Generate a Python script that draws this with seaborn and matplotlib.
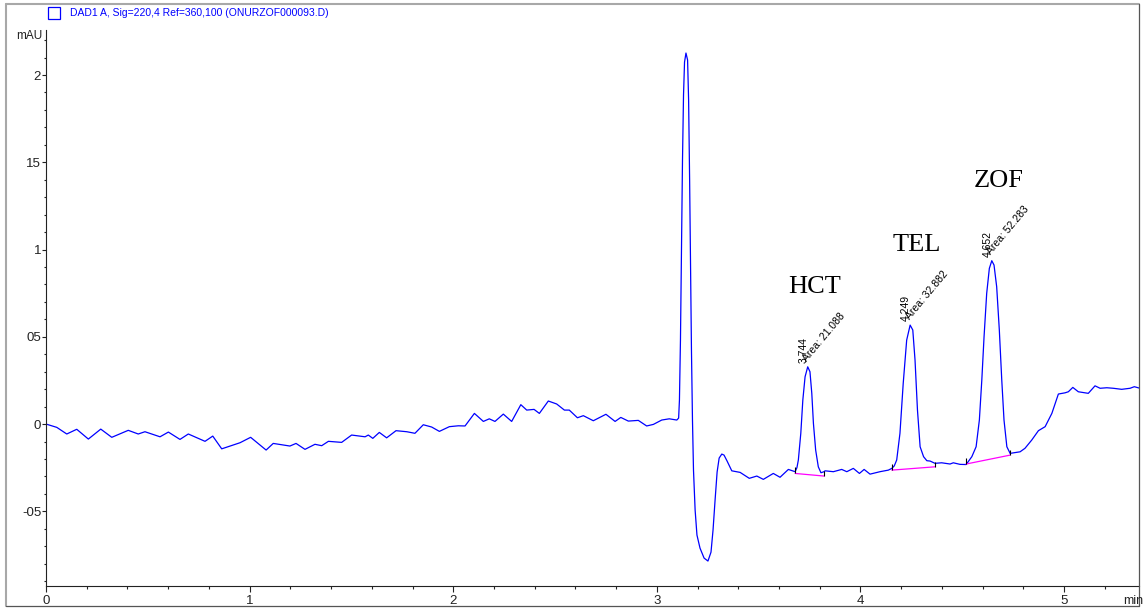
import matplotlib
matplotlib.use('Agg')
import matplotlib.pyplot as plt
import seaborn as sns
import numpy as np
from matplotlib.ticker import MultipleLocator
from matplotlib.lines import Line2D
from matplotlib.patches import Rectangle
from matplotlib.transforms import IdentityTransform

# trace (time in min, signal in mAU)
time_min = [
    0.000, 0.053, 0.102, 0.151, 0.208, 0.269, 0.323, 0.404, 0.453, 0.486,
    0.560, 0.601, 0.658, 0.699, 0.781, 0.819, 0.863, 0.953, 1.005, 1.081,
    1.116, 1.198, 1.228, 1.272, 1.321, 1.354, 1.387, 1.452, 1.501, 1.567,
    1.583, 1.605, 1.637, 1.673, 1.719, 1.772, 1.812, 1.853, 1.894, 1.932,
    1.981, 2.025, 2.058, 2.104, 2.148, 2.177, 2.205, 2.246, 2.287, 2.332,
    2.361, 2.397, 2.423, 2.467, 2.508, 2.546, 2.570, 2.610, 2.639, 2.688,
    2.750, 2.795, 2.823, 2.860, 2.909, 2.950, 2.983, 3.024, 3.061, 3.098,
    # solvent front spike
    3.107, 3.111, 3.116, 3.121, 3.126, 3.131, 3.136, 3.143, 3.151, 3.156,
    3.161, 3.166, 3.170, 3.175, 3.180, 3.188, 3.197, 3.212, 3.232, 3.251,
    3.266, 3.276, 3.286, 3.296, 3.306, 3.319, 3.330, 3.345, 3.368, 3.409,
    3.454, 3.491, 3.523, 3.572, 3.605, 3.646, 3.679,
    # HCT
    3.688, 3.695, 3.707, 3.717, 3.728, 3.741, 3.752, 3.761, 3.769, 3.780,
    3.793, 3.806, 3.821,
    3.826, 3.867, 3.908, 3.933, 3.965, 3.995, 4.018, 4.047, 4.096, 4.137,
    4.154,
    # TEL
    4.166, 4.178, 4.194, 4.210, 4.227, 4.244, 4.257, 4.268, 4.280, 4.293,
    4.310, 4.326, 4.342, 4.366, 4.399, 4.440, 4.456, 4.489, 4.519,
    # ZOF
    4.547, 4.568, 4.584, 4.596, 4.607, 4.620, 4.633, 4.645, 4.656, 4.669,
    4.682, 4.694, 4.705, 4.719, 4.735, 4.784, 4.808, 4.841, 4.874, 4.907,
    4.940, 4.972, 5.005, 5.021, 5.043, 5.070, 5.119, 5.152, 5.177, 5.210,
    5.242, 5.283, 5.324, 5.345, 5.373,
]
signal_mau = [
    0.000, -0.019, -0.057, -0.030, -0.086, -0.029, -0.076, -0.036, -0.057, -0.044,
    -0.073, -0.046, -0.088, -0.057, -0.099, -0.069, -0.142, -0.107, -0.076, -0.149,
    -0.111, -0.126, -0.111, -0.145, -0.116, -0.124, -0.099, -0.105, -0.063, -0.073,
    -0.063, -0.082, -0.048, -0.079, -0.038, -0.044, -0.053, -0.004, -0.017, -0.042,
    -0.015, -0.010, -0.011, 0.061, 0.015, 0.030, 0.015, 0.057, 0.015, 0.111,
    0.080, 0.084, 0.061, 0.132, 0.115, 0.080, 0.080, 0.036, 0.048, 0.019,
    0.056, 0.015, 0.038, 0.017, 0.021, -0.011, -0.002, 0.023, 0.030, 0.023,
    0.034, 0.138, 0.481, 0.997, 1.513, 1.885, 2.074, 2.126, 2.086, 1.857,
    1.398, 0.883, 0.424, 0.023, -0.264, -0.493, -0.636, -0.711, -0.768, -0.785,
    -0.734, -0.607, -0.436, -0.275, -0.195, -0.172, -0.178, -0.212, -0.268, -0.277,
    -0.311, -0.298, -0.317, -0.283, -0.305, -0.260, -0.273,
    -0.250, -0.206, -0.053, 0.138, 0.271, 0.328, 0.300, 0.176, 0.004, -0.149,
    -0.245, -0.279, -0.273,
    -0.268, -0.273, -0.260, -0.273, -0.254, -0.283, -0.260, -0.287, -0.273, -0.264,
    -0.254,
    -0.240, -0.206, -0.053, 0.233, 0.481, 0.567, 0.539, 0.367, 0.080, -0.130,
    -0.187, -0.210, -0.212, -0.225, -0.222, -0.229, -0.222, -0.231, -0.232,
    -0.187, -0.130, 0.023, 0.252, 0.500, 0.749, 0.892, 0.936, 0.911, 0.787,
    0.539, 0.252, 0.023, -0.130, -0.168, -0.159, -0.139, -0.092, -0.038, -0.015,
    0.061, 0.172, 0.179, 0.185, 0.210, 0.185, 0.176, 0.219, 0.205, 0.208,
    0.205, 0.199, 0.205, 0.214, 0.205,
]

# integrated peaks
peak_names = ['HCT', 'TEL', 'ZOF']
peak_rt = [3.744, 4.249, 4.652]
peak_apex_t = [3.741, 4.244, 4.645]
peak_apex_y = [0.328, 0.567, 0.936]
peak_area = ['21.088', '32.882', '52.283']
base_start_t = [3.679, 4.154, 4.519]
base_start_y = [-0.283, -0.264, -0.229]
base_end_t = [3.821, 4.366, 4.735]
base_end_y = [-0.298, -0.245, -0.178]

y_ticks = [-0.5, 0, 0.5, 1, 1.5, 2]
y_tick_labels = ['-05', '0', '05', '1', '15', '2']
x_ticks = [0, 1, 2, 3, 4, 5]

sns.set_style('ticks')
plt.rcParams['font.family'] = ['Liberation Sans', 'DejaVu Sans']

W, H = 1144, 609
fig = plt.figure(figsize=(W / 100, H / 100), dpi=100)
ax = fig.add_axes([46 / W, (H - 586) / H, (1139 - 46) / W, (586 - 30) / H])

sns.lineplot(x=time_min, y=signal_mau, color='#0000ff', linewidth=0.9,
             sort=False, ax=ax, solid_joinstyle='round')

for i in range(len(peak_names)):
    ax.plot([base_start_t[i], base_end_t[i]], [base_start_y[i], base_end_y[i]],
            color='#ff00ff', linewidth=0.9)
    ax.vlines([base_start_t[i], base_end_t[i]],
              [base_start_y[i], base_end_y[i]],
              [base_start_y[i] + 0.035, base_end_y[i] + 0.03],
              color='black', linewidth=0.8)
    ax.annotate(f'{peak_rt[i]:.3f}', xy=(peak_apex_t[i], peak_apex_y[i]),
                xytext=(0.5, 4), textcoords='offset pixels', rotation=90,
                rotation_mode='anchor', ha='left', va='bottom', fontsize=7.5,
                color='black')
    ax.annotate(f'Area: {peak_area[i]}', xy=(peak_apex_t[i], peak_apex_y[i]),
                xytext=(1, 4), textcoords='offset pixels', rotation=50,
                rotation_mode='anchor', ha='left', va='bottom', fontsize=7.5,
                color='black')
    ax.annotate(peak_names[i], xy=(peak_apex_t[i], peak_apex_y[i]),
                xytext=(7, 80), textcoords='offset pixels', ha='center',
                va='center', fontsize=19, family='Liberation Serif',
                color='black')

ax.set_xlim(0, 5.368)
ax.set_ylim(-0.928, 2.258)
ax.set_xticks(x_ticks)
ax.set_xticklabels([str(v) for v in x_ticks])
ax.set_yticks(y_ticks)
ax.set_yticklabels(y_tick_labels)
ax.xaxis.set_minor_locator(MultipleLocator(0.2))
ax.yaxis.set_minor_locator(MultipleLocator(0.1))
ax.tick_params(axis='x', which='major', length=4.3, width=0.8, pad=2.5,
               labelsize=9.5, colors='#222222')
ax.tick_params(axis='x', which='minor', length=2.5, width=0.8, colors='#222222')
ax.tick_params(axis='y', which='major', length=3, width=0.8, pad=0.5,
               labelsize=9.5, colors='#222222')
ax.tick_params(axis='y', which='minor', length=1.5, width=0.8, colors='#222222')
for side in ['top', 'right']:
    ax.spines[side].set_visible(False)
for side in ['left', 'bottom']:
    ax.spines[side].set_color('#222222')
    ax.spines[side].set_linewidth(0.8)
ax.set_xlabel('')
ax.set_ylabel('')

ax.text(-0.003, 1.0, 'mAU', transform=ax.transAxes, ha='right', va='top',
        fontsize=8.5, color='#222222')

# signal header with its legend box
px = IdentityTransform()
fig.add_artist(Rectangle((48, H - 19), 12, 12, fill=False, edgecolor='#0000ff',
                         linewidth=0.9, transform=px))
fig.text(70 / W, (H - 13) / H, 'DAD1 A, Sig=220,4 Ref=360,100 (ONURZOF000093.D)',
         color='#0000ff', fontsize=7.5, va='center', ha='left',
         family=['Liberation Sans Narrow', 'Liberation Sans'])
fig.text((W - 1) / W, (H - 601) / H, 'min', ha='right', va='center',
         fontsize=9, color='#222222')

# outer frame
fig.add_artist(Line2D([6, 6], [3, H - 4], color='#a8a8a8', linewidth=1.5, transform=px))
fig.add_artist(Line2D([6, 1139], [H - 4, H - 4], color='#a8a8a8', linewidth=1.5, transform=px))
fig.add_artist(Line2D([1139, 1139], [3, H - 4], color='#555555', linewidth=0.9, transform=px))
fig.add_artist(Line2D([6, 1139], [3, 3], color='#555555', linewidth=0.9, transform=px))

fig.savefig('out.png', dpi=100)
